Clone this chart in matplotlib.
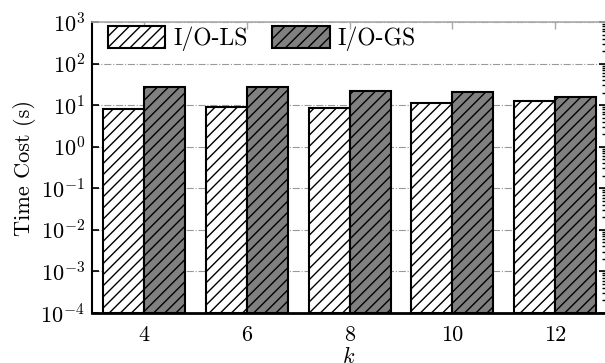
import numpy as np
import matplotlib
matplotlib.use("Agg")
import matplotlib.pyplot as plt

plt.rcParams["font.family"] = "cmr10"
plt.rcParams["mathtext.fontset"] = "cm"
plt.rcParams["axes.formatter.use_mathtext"] = True
plt.rcParams["hatch.linewidth"] = 1.0
plt.rcParams["font.size"] = 16

ks = ["4", "6", "8", "10", "12"]
io_ls = [8.0, 9.1, 8.5, 11.6, 12.5]     # I/O-LS time (s)
io_gs = [27.0, 27.0, 21.7, 20.5, 15.8]  # I/O-GS time (s)

fig = plt.figure(figsize=(6.05, 3.63), dpi=100)
ax = fig.add_axes([0.152, 0.138, 0.85, 0.801])

x = np.arange(len(ks))
w = 0.4
ax.bar(x - w / 2, io_ls, w, bottom=1e-4, color="white", edgecolor="black",
       linewidth=1.5, hatch="///", label="I/O-LS", zorder=3)
ax.bar(x + w / 2, io_gs, w, bottom=1e-4, color="#808080", edgecolor="black",
       linewidth=1.5, hatch="///", label="I/O-GS", zorder=3)

ax.set_yscale("log")
ax.set_ylim(1e-4, 1e3)
ax.set_xlim(-0.51, 4.5)
ax.set_xticks(x)
ax.set_xticklabels(ks)
ax.set_xlabel("$k$", labelpad=1)
ax.set_ylabel("Time Cost (s)", labelpad=3)

ax.yaxis.grid(True, which="major", linestyle="-.", color="#999999", linewidth=0.8, zorder=0)
ax.set_axisbelow(True)

ax.spines["left"].set_linewidth(1.5)
ax.spines["bottom"].set_linewidth(2.0)
ax.spines["top"].set_color("#aaaaaa")
ax.spines["top"].set_linewidth(1.2)
ax.spines["right"].set_visible(False)

ax.tick_params(axis="y", which="major", direction="in", length=5, width=1.2,
               left=True, right=True, labelright=False)
ax.tick_params(axis="y", which="minor", direction="in", length=3, width=1.0,
               left=False, right=True)
ax.tick_params(axis="x", which="both", direction="in", length=5, width=1.0,
               bottom=False, top=True, color="#aaaaaa", pad=9)
ax.tick_params(axis="y", pad=5)

ax.legend(loc="upper left", ncol=2, frameon=False, handlelength=2.45, handleheight=1.1,
          columnspacing=1.0, handletextpad=0.35, borderaxespad=0.0, borderpad=0.4,
          bbox_to_anchor=(0.012, 1.02), fontsize=17)

fig.savefig("out.png", dpi=100)
